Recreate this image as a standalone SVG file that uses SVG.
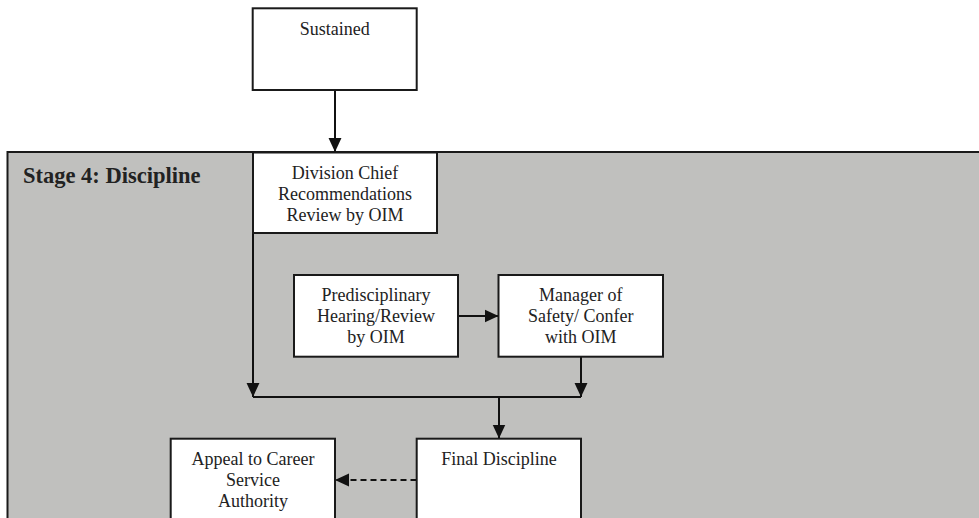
<svg xmlns="http://www.w3.org/2000/svg" width="979" height="518" viewBox="0 0 979 518">
<style>
.box{fill:#ffffff;stroke:#1a1a1a;stroke-width:2}
.t{font-family:"Liberation Serif","Times New Roman",serif;font-size:18px;fill:#222;text-anchor:middle}
.title{font-family:"Liberation Serif","Times New Roman",serif;font-size:22.5px;font-weight:bold;fill:#222}
.ln{fill:none;stroke:#111;stroke-width:2}
.dash{stroke-dasharray:6 4}
</style>
<defs>
<marker id="ah" markerUnits="userSpaceOnUse" markerWidth="14" markerHeight="14" viewBox="0 0 13 12" refX="13" refY="6" orient="auto">
<path d="M0,0 L13,6 L0,12 Z" fill="#111"/>
</marker>
</defs>
<rect id="stage" x="7.5" y="152" width="980" height="380" fill="#c0c0be" stroke="#1a1a1a" stroke-width="2"/>
<text class="title" x="23" y="183">Stage 4: Discipline</text>
<g id="connectors">
<line class="ln" x1="335" y1="90" x2="335" y2="152" marker-end="url(#ah)"/>
<line class="ln" x1="253" y1="233" x2="253" y2="397" marker-end="url(#ah)"/>
<line class="ln" x1="458" y1="316" x2="498.5" y2="316" marker-end="url(#ah)"/>
<line class="ln" x1="581" y1="357" x2="581" y2="397" marker-end="url(#ah)"/>
<line class="ln" x1="253" y1="397" x2="581" y2="397"/>
<line class="ln" x1="499" y1="397" x2="499" y2="438.5" marker-end="url(#ah)"/>
<line class="ln dash" x1="416.5" y1="480" x2="335" y2="480" marker-end="url(#ah)"/>
</g>
<g id="sustained">
<rect class="box" x="252.7" y="8.3" width="164" height="81.7"/>
<text class="t" x="334.7" y="35">Sustained</text>
</g>
<g id="division-chief">
<rect class="box" x="253" y="152.5" width="184" height="80.5"/>
<text class="t" x="345" y="179">Division Chief</text>
<text class="t" x="345" y="200">Recommendations</text>
<text class="t" x="345" y="221">Review by OIM</text>
</g>
<g id="predisciplinary">
<rect class="box" x="294" y="275" width="164" height="81.7"/>
<text class="t" x="376" y="301">Predisciplinary</text>
<text class="t" x="376" y="322">Hearing/Review</text>
<text class="t" x="376" y="343">by OIM</text>
</g>
<g id="manager">
<rect class="box" x="498.5" y="275" width="164.5" height="81.7"/>
<text class="t" x="580.75" y="301">Manager of</text>
<text class="t" x="580.75" y="322">Safety/ Confer</text>
<text class="t" x="580.75" y="343">with OIM</text>
</g>
<g id="final-discipline">
<rect class="box" x="416.7" y="438.7" width="164.3" height="100"/>
<text class="t" x="499" y="465">Final Discipline</text>
</g>
<g id="appeal">
<rect class="box" x="170.7" y="438.7" width="164.3" height="100"/>
<text class="t" x="253" y="465">Appeal to Career</text>
<text class="t" x="253" y="486">Service</text>
<text class="t" x="253" y="507">Authority</text>
</g>
</svg>
